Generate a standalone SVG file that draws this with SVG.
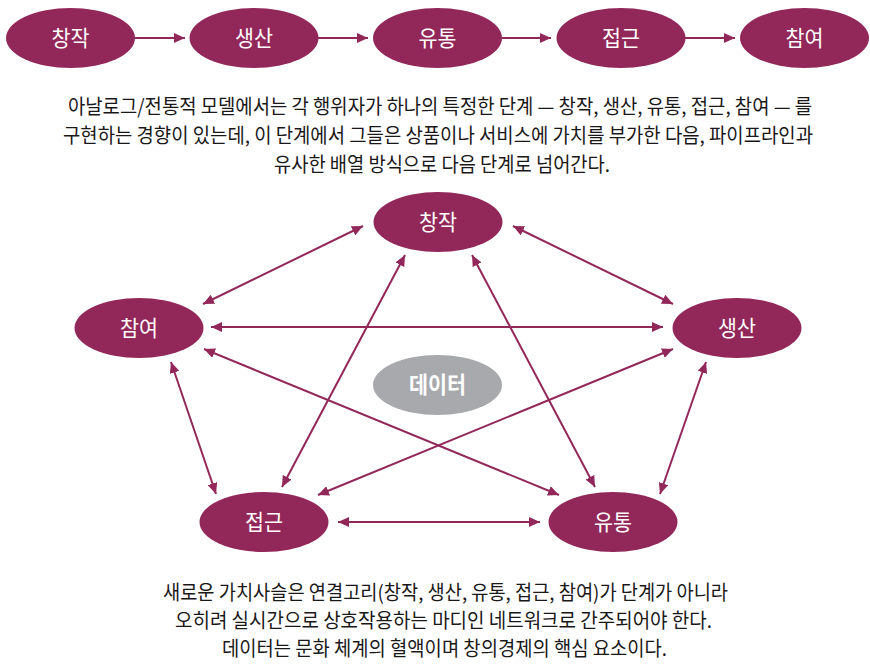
<svg xmlns="http://www.w3.org/2000/svg" width="870" height="667" viewBox="0 0 870 667">
<style>
.node{fill:#92275a}
.data{fill:#a7a9ac}
.lbl{font-family:"Noto Sans CJK KR","Noto Sans",sans-serif;font-size:22px;fill:#ffffff;text-anchor:middle}
.dlbl{font-family:"Noto Sans CJK KR","Noto Sans",sans-serif;font-size:23px;font-weight:bold;fill:#ffffff;text-anchor:middle}
.para{font-family:"Noto Sans CJK KR","Noto Sans",sans-serif;font-size:20px;fill:#1a1718}
.conn{stroke:#92275a;stroke-width:2;fill:none}
.one{marker-end:url(#ah)}
.two{marker-start:url(#ah);marker-end:url(#ah)}
</style>
<defs>
<marker id="ah" viewBox="0 0 11 10" refX="11" refY="5" markerWidth="11" markerHeight="10" markerUnits="userSpaceOnUse" orient="auto-start-reverse">
<path d="M0,0 L11,5 L0,10 z" fill="#92275a"/>
</marker>
</defs>
<rect width="870" height="667" fill="#ffffff"/>

<g id="connectors">
<line class="conn one" x1="135" y1="38" x2="185" y2="38"/>
<line class="conn one" x1="318" y1="38" x2="368" y2="38"/>
<line class="conn one" x1="502" y1="38" x2="551" y2="38"/>
<line class="conn one" x1="685" y1="38" x2="735" y2="38"/>

<line class="conn two" x1="363" y1="226" x2="203" y2="304"/>
<line class="conn two" x1="513" y1="226" x2="673" y2="304"/>
<line class="conn two" x1="211" y1="327" x2="663" y2="327"/>
<line class="conn two" x1="405" y1="255" x2="282" y2="487"/>
<line class="conn two" x1="472" y1="255" x2="595" y2="487"/>
<line class="conn two" x1="204" y1="349" x2="559" y2="495"/>
<line class="conn two" x1="673" y1="349" x2="318" y2="495"/>
<line class="conn two" x1="171" y1="362" x2="216" y2="494"/>
<line class="conn two" x1="706" y1="362" x2="660" y2="494"/>
<line class="conn two" x1="338" y1="522" x2="540" y2="522"/>
</g>

<g id="top-creation"><ellipse class="node" cx="70.5" cy="38" rx="64.5" ry="30"/><text class="lbl" x="70.5" y="46" textLength="38" lengthAdjust="spacingAndGlyphs">창작</text></g>
<g id="top-production"><ellipse class="node" cx="254" cy="38" rx="64.5" ry="30"/><text class="lbl" x="254" y="46" textLength="38" lengthAdjust="spacingAndGlyphs">생산</text></g>
<g id="top-distribution"><ellipse class="node" cx="437.5" cy="38" rx="64.5" ry="30"/><text class="lbl" x="437.5" y="46" textLength="38" lengthAdjust="spacingAndGlyphs">유통</text></g>
<g id="top-access"><ellipse class="node" cx="621" cy="38" rx="64.5" ry="30"/><text class="lbl" x="621" y="46" textLength="38" lengthAdjust="spacingAndGlyphs">접근</text></g>
<g id="top-participation"><ellipse class="node" cx="804.5" cy="38" rx="64.5" ry="30"/><text class="lbl" x="804.5" y="46" textLength="38" lengthAdjust="spacingAndGlyphs">참여</text></g>

<g id="para1">
<text class="para" x="68" y="114" textLength="744" lengthAdjust="spacingAndGlyphs">아날로그/전통적 모델에서는 각 행위자가 하나의 특정한 단계 — 창작, 생산, 유통, 접근, 참여 — 를</text>
<text class="para" x="63" y="143" textLength="750" lengthAdjust="spacingAndGlyphs">구현하는 경향이 있는데, 이 단계에서 그들은 상품이나 서비스에 가치를 부가한 다음, 파이프라인과</text>
<text class="para" x="274" y="172" textLength="336" lengthAdjust="spacingAndGlyphs">유사한 배열 방식으로 다음 단계로 넘어간다.</text>
</g>

<g id="creation"><ellipse class="node" cx="438" cy="222" rx="64.5" ry="30"/><text class="lbl" x="438" y="230" textLength="38" lengthAdjust="spacingAndGlyphs">창작</text></g>
<g id="participation"><ellipse class="node" cx="139" cy="328" rx="64.5" ry="30"/><text class="lbl" x="139" y="336" textLength="38" lengthAdjust="spacingAndGlyphs">참여</text></g>
<g id="production"><ellipse class="node" cx="737" cy="328" rx="64.5" ry="30"/><text class="lbl" x="737" y="336" textLength="38" lengthAdjust="spacingAndGlyphs">생산</text></g>
<g id="data"><ellipse class="data" cx="437.5" cy="385" rx="64.5" ry="30"/><text class="dlbl" x="437.5" y="393" textLength="57" lengthAdjust="spacingAndGlyphs">데이터</text></g>
<g id="access"><ellipse class="node" cx="264" cy="522" rx="64.5" ry="30"/><text class="lbl" x="264" y="530" textLength="38" lengthAdjust="spacingAndGlyphs">접근</text></g>
<g id="distribution"><ellipse class="node" cx="613" cy="522" rx="64.5" ry="30"/><text class="lbl" x="613" y="530" textLength="38" lengthAdjust="spacingAndGlyphs">유통</text></g>

<g id="para2">
<text class="para" x="163" y="600" textLength="565" lengthAdjust="spacingAndGlyphs">새로운 가치사슬은 연결고리(창작, 생산, 유통, 접근, 참여)가 단계가 아니라</text>
<text class="para" x="175" y="628" textLength="537" lengthAdjust="spacingAndGlyphs">오히려 실시간으로 상호작용하는 마디인 네트워크로 간주되어야 한다.</text>
<text class="para" x="222" y="656" textLength="445" lengthAdjust="spacingAndGlyphs">데이터는 문화 체계의 혈액이며 창의경제의 핵심 요소이다.</text>
</g>
</svg>
